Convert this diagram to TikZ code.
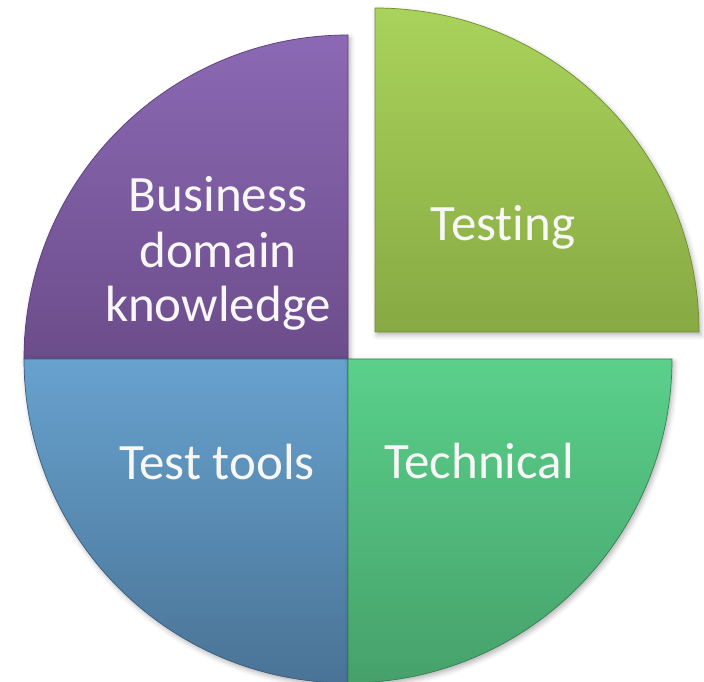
\documentclass[tikz,border=0pt]{standalone}
\usepackage{fontspec}
\setmainfont[Ligatures={NoCommon,NoContextual}]{Carlito}
\usetikzlibrary{shadows.blur}
\definecolor{purpT}{HTML}{8B69B4}
\definecolor{purpB}{HTML}{6C4D8B}
\definecolor{purpE}{HTML}{5A3E75}
\definecolor{limeT}{HTML}{A9D35B}
\definecolor{limeB}{HTML}{88A943}
\definecolor{limeE}{HTML}{6F8C33}
\definecolor{grnT}{HTML}{5AD08B}
\definecolor{grnB}{HTML}{46A16A}
\definecolor{grnE}{HTML}{357F52}
\definecolor{bluT}{HTML}{67A2CE}
\definecolor{bluB}{HTML}{4A7396}
\definecolor{bluE}{HTML}{3A5C7A}
\begin{document}
\begin{tikzpicture}[x=1pt,y=1pt,
  slice/.style={line width=0.7pt, line join=miter,
    blur shadow={shadow xshift=2pt, shadow yshift=-3pt, shadow blur radius=5pt, shadow opacity=30}},
  lbl/.style={text=white!97!black, font=\fontsize{51}{57}\selectfont, anchor=base, inner sep=0pt}]
\useasboundingbox (0,0) rectangle (704,682);
\coordinate (C) at (348,323);
\coordinate (E) at (375,350);
% Business domain knowledge (top-left)
\shade[slice, draw=purpE, top color=purpT, bottom color=purpB]
  (C) -- ++(-324,0) arc[start angle=180, end angle=90, radius=324] -- cycle;
% Test tools (bottom-left)
\shade[slice, draw=bluE, top color=bluT, bottom color=bluB]
  (C) -- ++(0,-324) arc[start angle=270, end angle=180, radius=324] -- cycle;
% Technical (bottom-right)
\shade[slice, draw=grnE, top color=grnT, bottom color=grnB]
  (C) -- ++(324,0) arc[start angle=0, end angle=-90, radius=324] -- cycle;
% Testing (top-right, exploded)
\shade[slice, draw=limeE, top color=limeT, bottom color=limeB]
  (E) -- ++(0,324) arc[start angle=90, end angle=0, radius=324] -- cycle;
% labels
\node[lbl] (bus1) at (218,470) {Business};
\node[lbl] (bus2) at (218,414) {domain};
\node[lbl] (bus3) at (218,360) {knowledge};
\node[lbl] (testing) at (503,441) {Test\kern0pt ing};
\node[lbl] (tools) at (217,202) {Test tools};
\node[lbl] (tech) at (479,203) {Technical};
\end{tikzpicture}
\end{document}
